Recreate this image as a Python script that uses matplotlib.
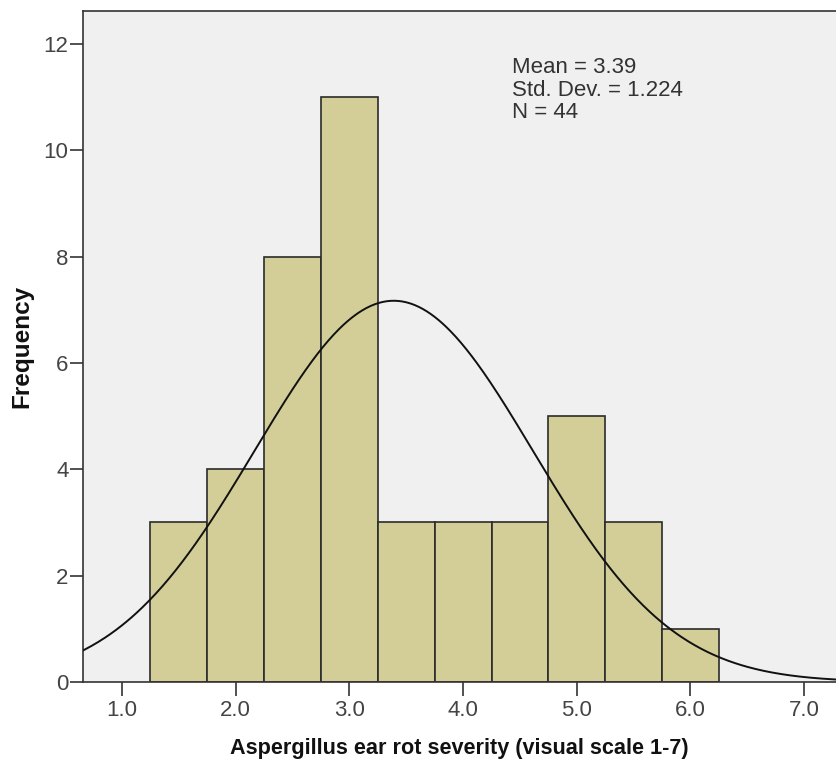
import numpy as np
import matplotlib
matplotlib.use("Agg")
import matplotlib.pyplot as plt
from matplotlib import font_manager

# Data
bin_edges = [1.25, 1.75, 2.25, 2.75, 3.25, 3.75, 4.25, 4.75, 5.25, 5.75, 6.25]
counts = [3, 4, 8, 11, 3, 3, 3, 5, 3, 1]
mean_val = 3.39
sd_val = 1.224
n_val = 44
x_ticks = [1.0, 2.0, 3.0, 4.0, 5.0, 6.0, 7.0]
x_tick_labels = ["1.0", "2.0", "3.0", "4.0", "5.0", "6.0", "7.0"]
y_ticks = [0, 2, 4, 6, 8, 10, 12]

plt.rcParams['font.family'] = ['Liberation Sans', 'DejaVu Sans']
names = {f.name for f in font_manager.fontManager.ttflist}
narrow = ['Liberation Sans Narrow', 'Liberation Sans', 'DejaVu Sans'] if 'Liberation Sans Narrow' in names else ['Liberation Sans', 'DejaVu Sans']
tick_size = 18 if 'Liberation Sans Narrow' in names else 16

fig = plt.figure(figsize=(8.36, 7.66), dpi=100)
ax = fig.add_axes([0.0993, 0.1097, 0.9007, 0.8759])
ax.set_facecolor('#F0F0F0')

lefts = np.array(bin_edges[:-1])
widths = np.diff(bin_edges)
ax.bar(lefts, counts, width=widths, align='edge', color='#D3CE97',
       edgecolor='#2B2B2B', linewidth=1.2, zorder=2)

xs = np.linspace(0.5, 7.5, 600)
binw = widths[0]
ys = n_val * binw / (sd_val * np.sqrt(2 * np.pi)) * np.exp(-0.5 * ((xs - mean_val) / sd_val) ** 2)
ax.plot(xs, ys, color='#111111', linewidth=1.4, zorder=3)

ax.set_xlim(0.657, 7.28)
ax.set_ylim(0, 12.62)
ax.set_xticks(x_ticks)
ax.set_xticklabels(x_tick_labels)
ax.set_yticks(y_ticks)

for s in ['left', 'bottom', 'top']:
    ax.spines[s].set_color('#333333')
    ax.spines[s].set_linewidth(1.2)
ax.spines['right'].set_visible(False)

ax.tick_params(axis='x', direction='out', length=10, width=1.2, color='#333333',
               labelsize=tick_size, labelcolor='#444444', pad=3)
ax.tick_params(axis='y', direction='out', length=9.5, width=1.2, color='#333333',
               labelsize=tick_size, labelcolor='#444444', pad=1)
for lab in ax.get_xticklabels() + ax.get_yticklabels():
    lab.set_fontfamily(narrow)

ax.set_xlabel('Aspergillus ear rot severity (visual scale 1-7)', fontsize=15.6,
              fontweight='bold', color='#111111', labelpad=12)
ax.set_ylabel('Frequency', fontsize=17.5, fontweight='bold', color='#111111', labelpad=7)

ax.text((512 - 83) / (836 - 83), (682 - 57) / (682 - 11),
        'Mean = 3.39\nStd. Dev. = 1.224\nN = 44',
        transform=ax.transAxes, fontsize=16, color='#333333', va='top', ha='left',
        linespacing=1.1)

fig.savefig('out.png', dpi=100)
